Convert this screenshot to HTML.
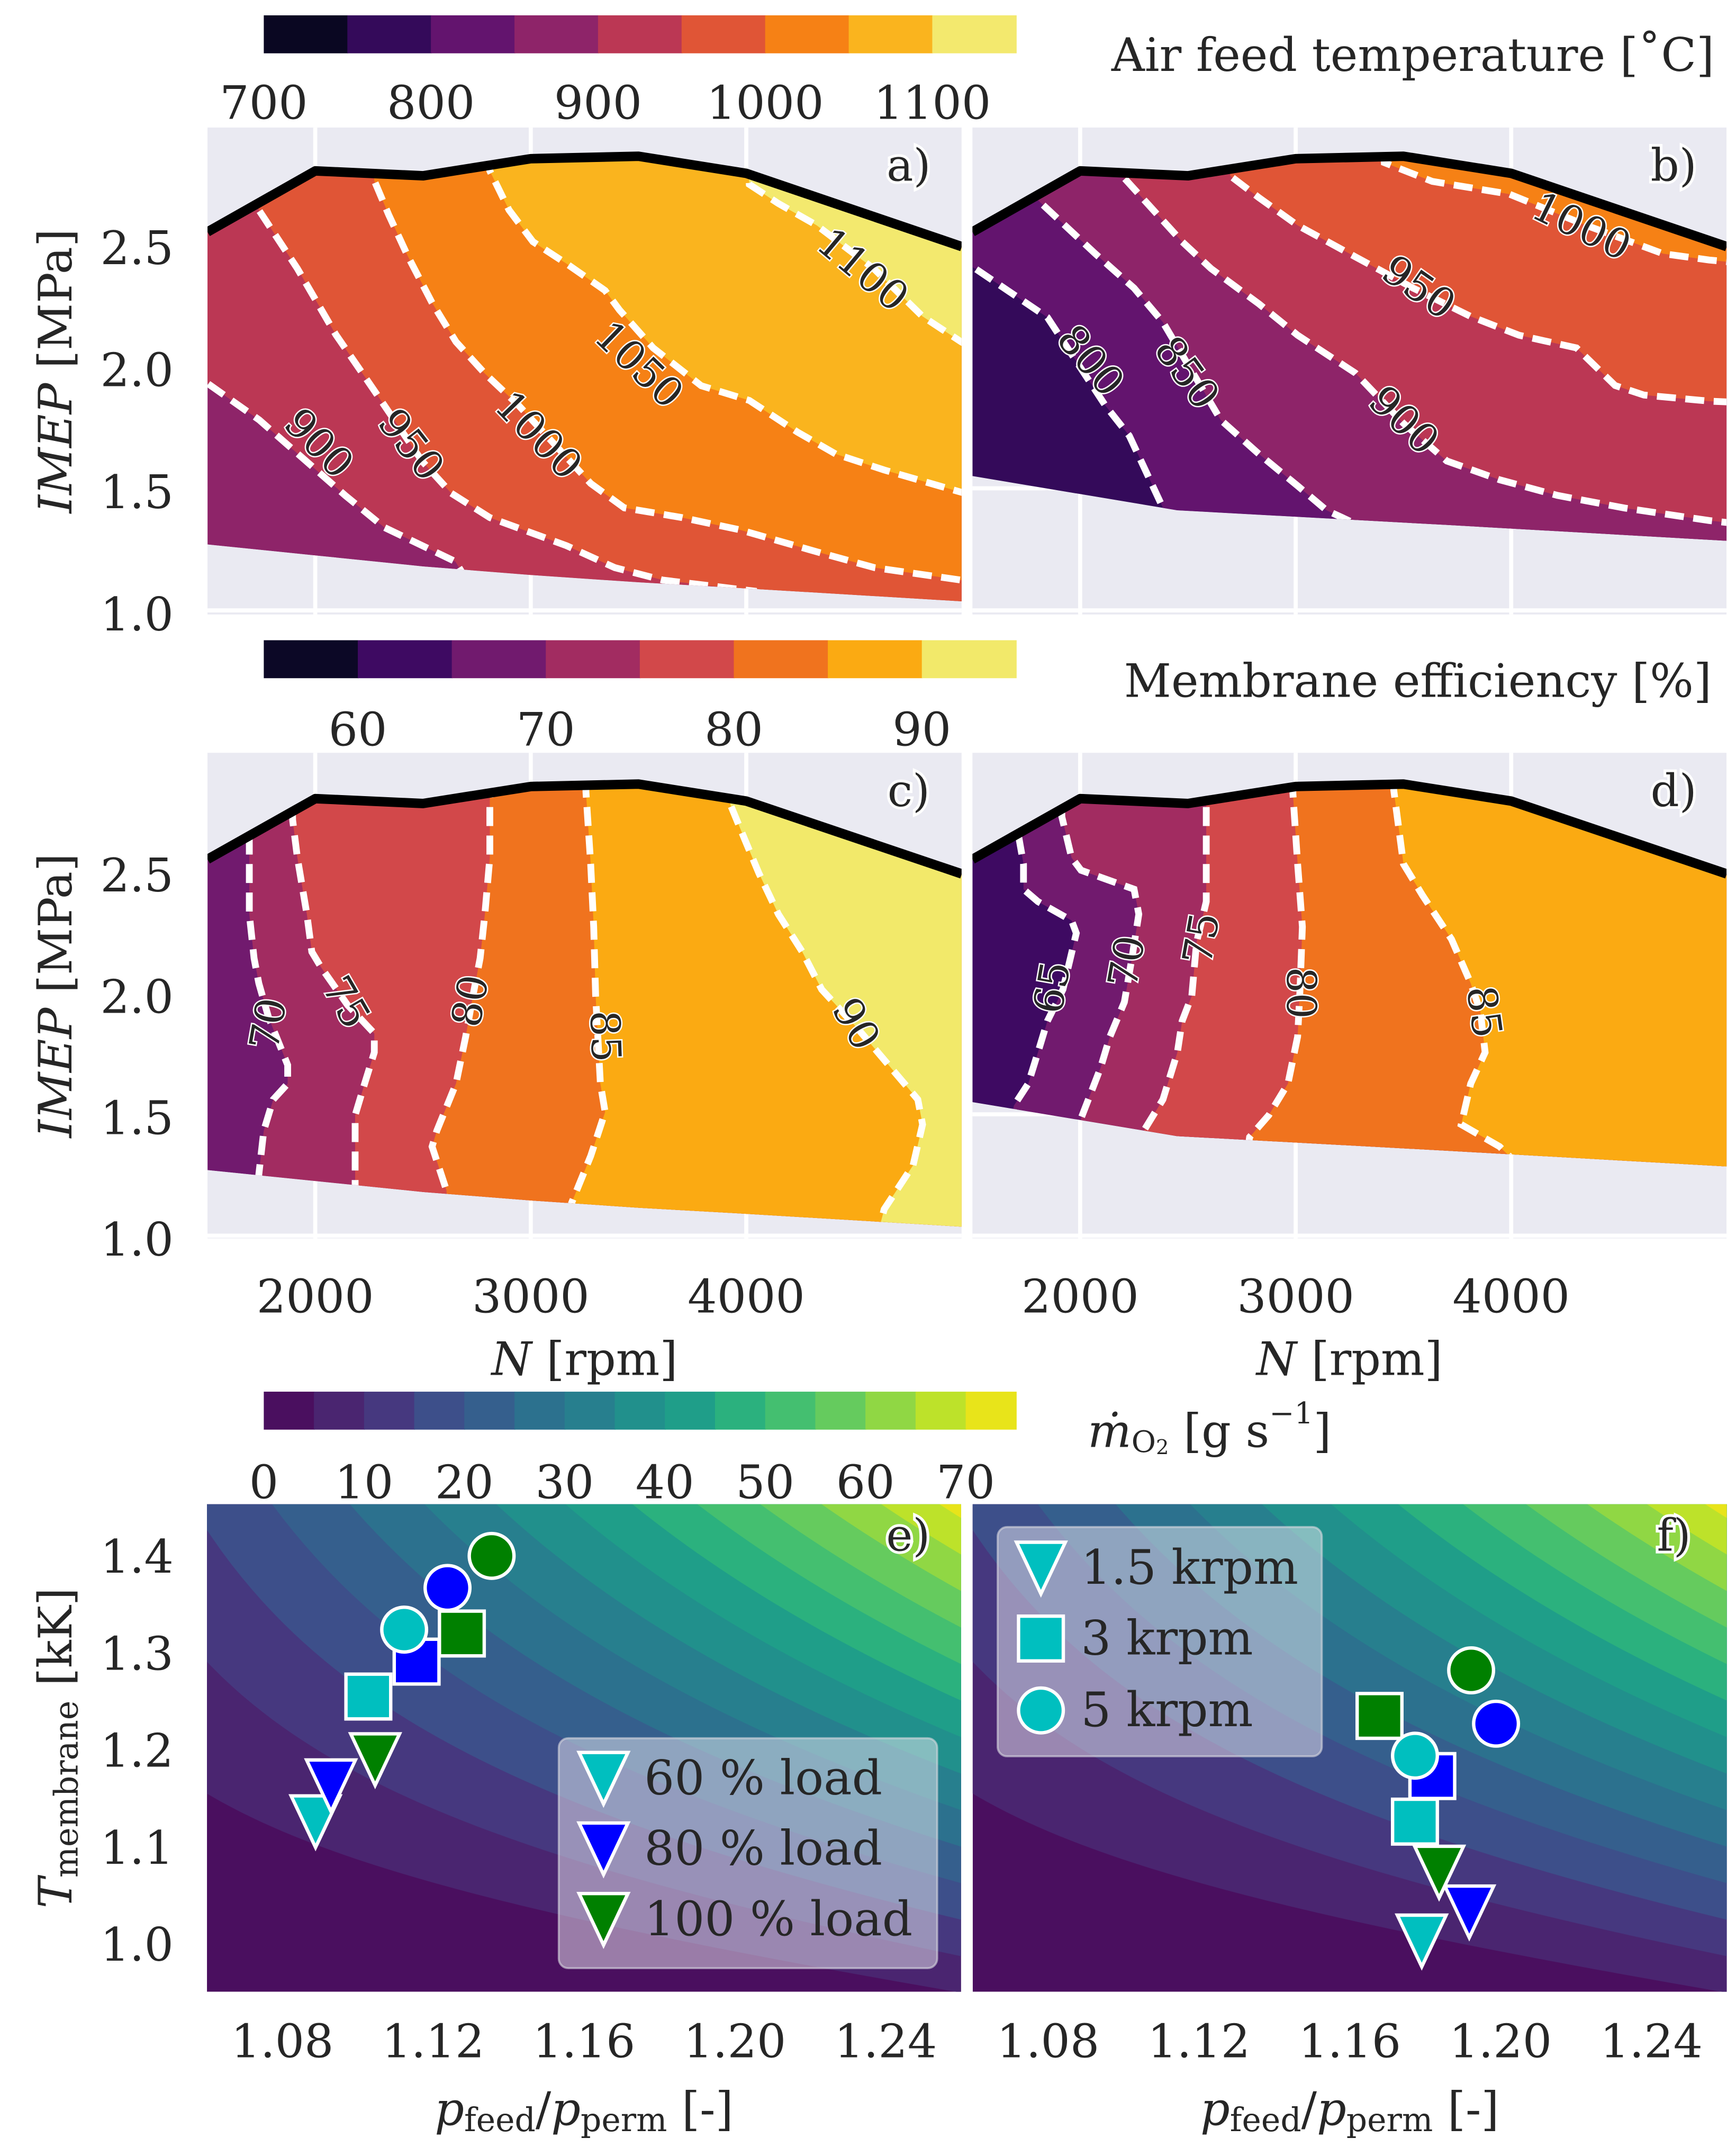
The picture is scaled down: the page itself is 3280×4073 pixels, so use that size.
<!DOCTYPE html>
<html><head><meta charset="utf-8"><style>
html,body{margin:0;padding:0;background:#fff;}
svg{display:block;}
text{font-family:"DejaVu Serif","Liberation Serif",serif;fill:#262626;}
</style></head><body>
<svg id="fig" xmlns="http://www.w3.org/2000/svg" width="3280" height="4073" viewBox="0 0 1280 1589.5" preserveAspectRatio="none"></svg>
<script>
// ---------- data ----------
const envTopN=[1500,2000,2500,3000,3500,4000,5000];
const envTopV=[2.55,2.80,2.78,2.85,2.86,2.79,2.49];
const envBotLeftN=[1500,2000,2500,3000,3500,4000,5000];
const envBotLeftV=[1.27,1.225,1.18,1.145,1.115,1.09,1.037];
const envBotRightN=[1500,2450,3700,5000];
const envBotRightV=[1.55,1.41,1.35,1.285];

const levelsA=[900,950,1000,1050,1100];
const linesA=[
[[1400,2.0],[1500,1.93],[1740,1.78],[2140,1.47],[2320,1.34],[2650,1.20],[2720,1.10],[2750,0.9]],
[[1700,3.1],[1738,2.64],[1917,2.40],[2095,2.13],[2274,1.90],[2497,1.61],[2631,1.48],[2810,1.38],[3166,1.265],[3390,1.175],[3613,1.124],[4037,1.079],[4100,0.9]],
[[2250,3.1],[2274,2.76],[2341,2.62],[2430,2.45],[2542,2.26],[2653,2.10],[2787,1.97],[2943,1.84],[3278,1.52],[3434,1.42],[3702,1.38],[3970,1.33],[4327,1.24],[4595,1.175],[4997,1.124],[5100,1.11]],
[[2790,3.1],[2810,2.80],[2899,2.64],[3010,2.51],[3166,2.42],[3345,2.31],[3412,2.23],[3568,2.075],[3791,1.92],[4014,1.86],[4238,1.73],[4416,1.64],[4640,1.575],[4997,1.484],[5100,1.46]],
[[3990,3.1],[4014,2.745],[4148,2.667],[4327,2.577],[4595,2.397],[4818,2.204],[4997,2.10],[5100,2.05]]
];
const levelsB=[800,850,900,950,1000];
const linesB=[
[[1400,2.45],[1513,2.40],[1848,2.20],[2116,1.84],[2228,1.715],[2384,1.42],[2420,1.3]],
[[1780,3.0],[1804,2.68],[2071,2.46],[2250,2.32],[2384,2.18],[2652,1.78],[2830,1.64],[3009,1.51],[3143,1.41],[3277,1.355],[3320,1.2]],
[[2190,3.0],[2205,2.77],[2339,2.64],[2473,2.51],[2607,2.40],[2830,2.255],[3009,2.127],[3277,1.972],[3500,1.766],[3701,1.612],[3946,1.535],[4214,1.471],[4527,1.419],[4919,1.368],[5100,1.35]],
[[2680,3.0],[2696,2.78],[2830,2.69],[3009,2.577],[3277,2.448],[3545,2.32],[3812,2.204],[4036,2.127],[4303,2.075],[4482,1.921],[4616,1.882],[4919,1.857],[5100,1.85]],
[[3400,3.0],[3411,2.834],[3634,2.757],[3991,2.705],[4348,2.577],[4705,2.461],[4919,2.435],[5100,2.42]]
];
const levelsC=[70,75,80,85,90];
const linesC=[
[[1690,3.0],[1694,2.608],[1694,2.324],[1716,2.143],[1738,2.04],[1783,1.9],[1872,1.703],[1872,1.626],[1805,1.561],[1761,1.432],[1738,1.251],[1735,1.0]],
[[1890,3.0],[1895,2.712],[1917,2.557],[1961,2.324],[1984,2.169],[2028,2.104],[2150,1.95],[2274,1.833],[2274,1.755],[2229,1.626],[2185,1.496],[2185,1.212],[2185,1.0]],
[[2810,3.0],[2810,2.802],[2810,2.557],[2787,2.324],[2765,2.143],[2730,1.98],[2698,1.82],[2653,1.626],[2564,1.432],[2542,1.367],[2609,1.186],[2620,1.0]],
[[3256,3.0],[3256,2.828],[3278,2.531],[3292,2.272],[3301,1.988],[3323,1.626],[3345,1.509],[3278,1.328],[3189,1.134],[3180,1.0]],
[[3900,3.0],[3926,2.776],[3992,2.634],[4059,2.492],[4149,2.324],[4260,2.169],[4350,2.014],[4520,1.85],[4685,1.677],[4796,1.561],[4818,1.458],[4774,1.29],[4640,1.109],[4617,1.031],[4610,0.9]]
];
const levelsD=[65,70,75,80,85];
const linesD=[
[[1710,3.0],[1714,2.647],[1737,2.531],[1737,2.427],[1804,2.376],[1960,2.298],[1982,2.246],[1920,2.014],[1848,1.884],[1804,1.755],[1759,1.626],[1692,1.535],[1670,1.4]],
[[1910,3.0],[1915,2.725],[1960,2.557],[2004,2.505],[2250,2.427],[2272,2.324],[2240,2.143],[2205,1.962],[2138,1.82],[2094,1.69],[2004,1.483],[1990,1.3]],
[[2585,3.0],[2585,2.77],[2585,2.531],[2585,2.376],[2540,2.208],[2518,1.988],[2473,1.884],[2451,1.755],[2384,1.561],[2295,1.432],[2270,1.3]],
[[2987,3.0],[2987,2.822],[3009,2.531],[3031,2.272],[3020,2.014],[3009,1.82],[2964,1.626],[2875,1.496],[2786,1.406],[2770,1.3]],
[[3455,3.0],[3455,2.835],[3500,2.531],[3589,2.401],[3723,2.221],[3812,2.04],[3857,1.923],[3879,1.755],[3812,1.626],[3768,1.458],[3946,1.367],[3991,1.328],[4020,1.2]]
];

const ePressure=[1.0888,1.0929,1.1046,1.1028,1.1156,1.1276,1.1123,1.1238,1.1355];
const eTemp=[1.127,1.164,1.191,1.256,1.292,1.321,1.325,1.368,1.401];
const fPressure=[1.1791,1.1917,1.1837,1.1773,1.1819,1.1679,1.1773,1.1988,1.1922];
const fTemp=[1.004,1.034,1.075,1.127,1.174,1.236,1.195,1.228,1.283];
const markerSpeed=['tri','tri','tri','sq','sq','sq','circ','circ','circ'];
const markerLoad=[60,80,100,60,80,100,60,80,100];

const cb1Ticks=[700,800,900,1000,1100];
const cb2Ticks=[60,70,80,90];
const cb3Ticks=[0,10,20,30,40,50,60,70];
const fieldLevels=[5,10,15,20,25,30,35,40,45,50,55,60,65,70];

// ---------- styles ----------
const inferno9=['#0a0722','#340a5a','#63146e','#8e2469','#bb3754','#e05536','#f68115','#fab41e','#f3e96e'];
const inferno8=['#0c0826','#3e0a62','#711a6e','#a22c61','#d2484a','#f0731e','#fbaa12','#f2e96a'];
const viridis15=['#4a0f5f','#4a2570','#46387f','#3d4f8a','#355f8d','#2c718e','#277f8e','#21908c','#1f9e89','#2bb17e','#44bf70','#65cb5e','#90d744','#bde22a','#e8e41a'];
const loadColor={60:'#00bfbf',80:'#0000ff',100:'#008000'};

const NS='http://www.w3.org/2000/svg';
const svg=document.getElementById('fig');
const defs=document.createElementNS(NS,'defs');svg.appendChild(defs);
function mk(tag,attrs,parent){const e=document.createElementNS(NS,tag);for(const k in attrs)e.setAttribute(k,attrs[k]);(parent||svg).appendChild(e);return e;}
function txt(str,attrs,parent){const t=mk('text',attrs,parent);t.textContent=str;return t;}

// ---------- colorbars ----------
function colorbar(name,y,colors,vmin,vmax,ticks,labelY){
  const g=mk('g',{});
  
  
  const x0=194.5,w=554.5,n=colors.length;
  colors.forEach((c,i)=>{
    const r=mk('rect',{x:x0+i*w/n,y:y,width:w/n+0.6,height:28,fill:c},g);
    
    
  });
  ticks.forEach(v=>{
    const t=txt(String(v),{x:x0+(v-vmin)/(vmax-vmin)*w,y:labelY,'font-size':34,'text-anchor':'middle','dominant-baseline':'central'},g);
    
    
  });
}
colorbar('temperature-colorbar',11.3,inferno9,700,1150,cb1Ticks,76);
colorbar('efficiency-colorbar',472,inferno8,55,95,cb2Ticks,538);
colorbar('oxygen-flow-colorbar',1026,viridis15,0,75,cb3Ticks,1093);

let t=txt('Air feed temperature [˚C]',{x:1264,y:40.6,'font-size':34,'text-anchor':'end','dominant-baseline':'central'});


t=txt('Membrane efficiency [%]',{x:1262,y:502,'font-size':34,'text-anchor':'end','dominant-baseline':'central'});


t=mk('text',{x:802,y:1055,'font-size':34,'dominant-baseline':'central'});
t.innerHTML='<tspan font-style="italic">ṁ</tspan><tspan font-size="22" dy="8">O</tspan><tspan font-size="15" dy="4">2</tspan><tspan dy="-12"> [g s</tspan><tspan font-size="22" dy="-13">−1</tspan><tspan dy="13">]</tspan>';



// ---------- contour panels ----------
let clipId=0;
function contourPanel(name,P,levels,lines,bandColors,baseColor,botN,botV,labels,letter,showY,showX){
  const xs=N=>P.x+(N-1500)*0.1589;
  const ys=v=>P.base-(v-1)*P.s;
  const g=mk('g',{});
  
  
  const bg=mk('rect',{x:P.x,y:P.y,width:P.w,height:P.h,fill:'#eaeaf2'},g);
  
  
  [2000,3000,4000].forEach(N=>{
    const l=mk('line',{x1:xs(N),x2:xs(N),y1:P.y,y2:P.y+P.h,stroke:'#fff','stroke-width':3},g);
    
    
  });
  [1.0,1.5,2.0,2.5].forEach(v=>{
    const l=mk('line',{x1:P.x,x2:P.x+P.w,y1:ys(v),y2:ys(v),stroke:'#fff','stroke-width':3},g);
    
    
  });
  const id='clip'+(clipId++);
  const cp=mk('clipPath',{id:id},defs);
  let pts=envTopN.map((N,i)=>xs(N)+','+ys(envTopV[i]));
  for(let i=botN.length-1;i>=0;i--)pts.push(xs(botN[i])+','+ys(botV[i]));
  mk('polygon',{points:pts.join(' ')},cp);
  const rid='clip'+(clipId++);
  const rc=mk('clipPath',{id:rid},defs);
  mk('rect',{x:P.x,y:P.y,width:P.w,height:P.h},rc);
  const outer=mk('g',{'clip-path':'url(#'+rid+')'},g);
  const fillG=mk('g',{'clip-path':'url(#'+id+')'},outer);
  const base=mk('polygon',{points:pts.join(' '),fill:baseColor},fillG);
  
  
  lines.forEach((ln,i)=>{
    const first=ln[0],last=ln[ln.length-1];
    const q=ln.map(p=>xs(p[0])+','+ys(p[1]));
    q.push(xs(last[0])+','+ys(0));q.push(xs(9000)+','+ys(0));q.push(xs(9000)+','+ys(9));q.push(xs(first[0])+','+ys(9));
    const poly=mk('polygon',{points:q.join(' '),fill:bandColors[i]},fillG);
    
    
  });
  lines.forEach((ln,i)=>{
    const pl=mk('polyline',{points:ln.map(p=>xs(p[0])+','+ys(p[1])).join(' '),fill:'none',stroke:'#fff','stroke-width':5,'stroke-dasharray':'14 7'},fillG);
    
    
  });
  const top=mk('polyline',{points:envTopN.map((N,i)=>xs(N)+','+ys(envTopV[i])).join(' '),fill:'none',stroke:'#000','stroke-width':7,'stroke-linejoin':'round'},outer);
  
  
  labels.forEach(L=>{
    const tl=txt(L[0],{x:L[1],y:L[2],'font-size':30,'text-anchor':'middle','dominant-baseline':'central',transform:'rotate('+L[3]+' '+L[1]+' '+L[2]+')',fill:'#000',stroke:'#fff','stroke-width':2,'paint-order':'stroke'},g);
    
    
  });
  const lt=txt(letter,{x:P.x+P.w-39,y:P.y+28,'font-size':33,'text-anchor':'middle','dominant-baseline':'central',stroke:'#fff','stroke-width':4,'paint-order':'stroke'},g);
  
  
  if(showY){
    [1.0,1.5,2.0,2.5].forEach(v=>{
      const tk=txt(v.toFixed(1),{x:128,y:ys(v)+3,'font-size':34,'text-anchor':'end','dominant-baseline':'central'},g);
      
      
    });
    const yl=mk('text',{x:41,y:P.y+P.h/2,'font-size':34,'text-anchor':'middle','dominant-baseline':'central',transform:'rotate(-90 41 '+(P.y+P.h/2)+')'},g);
    yl.innerHTML='<tspan font-style="italic">IMEP</tspan> [MPa]';
    
    
  }
  if(showX){
    [2000,3000,4000].forEach(N=>{
      const tk=txt(String(N),{x:xs(N),y:956,'font-size':34,'text-anchor':'middle','dominant-baseline':'central'},g);
      
      
    });
    const xl=mk('text',{x:P.x+P.w/2,y:1002,'font-size':34,'text-anchor':'middle','dominant-baseline':'central'},g);
    xl.innerHTML='<tspan font-style="italic">N</tspan> [rpm]';
    
    
  }
}
const PA={x:153,y:94,w:556,h:359,base:450,s:180};
const PB={x:717,y:94,w:556,h:359,base:450,s:180};
const PC={x:153,y:555,w:556,h:358,base:911,s:179};
const PD={x:717,y:555,w:556,h:358,base:911,s:179};
contourPanel('panel-a-air-feed-temp-case1',PA,levelsA,linesA,[inferno9[4],inferno9[5],inferno9[6],inferno9[7],inferno9[8]],inferno9[3],envBotLeftN,envBotLeftV,
 [['900',235,327,46],['950',303,328,52],['1000',397,321,46],['1050',471,269,44],['1100',636,199,40]],'a)',true,false);
contourPanel('panel-b-air-feed-temp-case2',PB,levelsB,linesB,[inferno9[2],inferno9[3],inferno9[4],inferno9[5],inferno9[6]],inferno9[1],envBotRightN,envBotRightV,
 [['800',804,266,50],['850',875,275,54],['900',1035,310,44],['950',1046,212,35],['1000',1166,167,26]],'b)',false,false);
contourPanel('panel-c-membrane-eff-case1',PC,levelsC,linesC,[inferno8[3],inferno8[4],inferno8[5],inferno8[6],inferno8[7]],inferno8[2],envBotLeftN,envBotLeftV,
 [['70',198,755,-80],['75',255,739,60],['80',347,738,-80],['85',446,764,88],['90',631,755,60]],'c)',true,true);
contourPanel('panel-d-membrane-eff-case2',PD,levelsD,linesD,[inferno8[2],inferno8[3],inferno8[4],inferno8[5],inferno8[6]],inferno8[1],envBotRightN,envBotRightV,
 [['65',776,728,-80],['70',831,709,-80],['75',886,692,-80],['80',959,732,90],['85',1094,746,82]],'d)',false,true);

// ---------- scatter panels ----------
function markerShape(kind,cx,cy,color,parent){
  let e;
  if(kind==='tri')e=mk('path',{d:'M'+(cx-18)+','+(cy-19)+' L'+(cx+18)+','+(cy-19)+' L'+cx+','+(cy+19)+' Z',fill:color,stroke:'#fff','stroke-width':2.5},parent);
  else if(kind==='sq')e=mk('rect',{x:cx-16.5,y:cy-16.5,width:33,height:33,fill:color,stroke:'#fff','stroke-width':2.5},parent);
  else e=mk('circle',{cx:cx,cy:cy,r:16.5,fill:color,stroke:'#fff','stroke-width':2.5},parent);
  return e;
}
function scatterPanel(name,x0,P,Tv,letter,showY,legend){
  const y0=1109,w=556,h=359.4;
  const xs=p=>x0+(p-1.06)*2780;
  const ys=T=>1433.8-(T-1)*715;
  const g=mk('g',{});
  
  
  const id='clip'+(clipId++);
  const cp=mk('clipPath',{id:id},defs);
  mk('rect',{x:x0,y:y0,width:w,height:h},cp);
  const fg=mk('g',{'clip-path':'url(#'+id+')'},g);
  const bg=mk('rect',{x:x0,y:y0,width:w,height:h,fill:viridis15[0]},fg);
  
  
  fieldLevels.forEach((L,i)=>{
    const q=[];
    for(let k=0;k<=80;k++){
      const p=1.05+k*0.22/80;
      const A=36.8+(p-1.06)*480;const T0=1.02-(p-1.06)*0.535;
      q.push(xs(p)+','+ys(T0+L/A));
    }
    q.push(xs(1.27)+','+ys(2));q.push(xs(1.05)+','+ys(2));
    const poly=mk('polygon',{points:q.join(' '),fill:viridis15[i+1]},fg);
    
    
  });
  P.forEach((p,i)=>{
    const m=markerShape(markerSpeed[i],xs(p),ys(Tv[i]),loadColor[markerLoad[i]],fg);
    
    
  });
  const lt=txt(letter,{x:x0+w-39,y:1132,'font-size':33,'text-anchor':'middle','dominant-baseline':'central',stroke:'#fff','stroke-width':4,'paint-order':'stroke'},g);
  
  
  const lg=mk('g',{},g);
  
  
  const box=mk('rect',{x:legend.x,y:legend.y,width:legend.w,height:legend.h,rx:7,fill:'#eaeaf2','fill-opacity':0.5,stroke:'#d8d8e0','stroke-opacity':0.6,'stroke-width':1.5},lg);
  
  
  legend.items.forEach((it,i)=>{
    const cy=legend.ys[i];
    const m=markerShape(it[0],legend.mx,cy,it[1],lg);
    
    
    const tt=txt(it[2],{x:legend.tx,y:cy,'font-size':35,'dominant-baseline':'central'},lg);
    
    
  });
  [1.08,1.12,1.16,1.20,1.24].forEach(v=>{
    const tk=txt(v.toFixed(2),{x:xs(v),y:1505,'font-size':34,'text-anchor':'middle','dominant-baseline':'central'},g);
    
    
  });
  const xl=mk('text',{x:x0+w/2,y:1555,'font-size':34,'text-anchor':'middle','dominant-baseline':'central'},g);
  xl.innerHTML='<tspan font-style="italic">p</tspan><tspan font-size="24" dy="8">feed</tspan><tspan dy="-8">/</tspan><tspan font-style="italic">p</tspan><tspan font-size="24" dy="8">perm</tspan><tspan dy="-8"> [-]</tspan>';
  
  
  if(showY){
    [1.0,1.1,1.2,1.3,1.4].forEach(v=>{
      const tk=txt(v.toFixed(1),{x:128,y:ys(v),'font-size':34,'text-anchor':'end','dominant-baseline':'central'},g);
      
      
    });
    const yc=y0+h/2;
    const yl=mk('text',{x:41,y:yc,'font-size':34,'text-anchor':'middle','dominant-baseline':'central',transform:'rotate(-90 41 '+yc+')'},g);
    yl.innerHTML='<tspan font-style="italic">T</tspan><tspan font-size="24" dy="8">membrane</tspan><tspan dy="-8"> [kK]</tspan>';
    
    
  }
}
scatterPanel('panel-e-membrane-temp-vs-pressure',152.6,ePressure,eTemp,'e)',true,
 {x:412,y:1281.5,w:279,h:169.5,mx:445,tx:475,ys:[1311,1363,1415],items:[['tri',loadColor[60],'60 % load'],['tri',loadColor[80],'80 % load'],['tri',loadColor[100],'100 % load']]});
scatterPanel('panel-f-membrane-temp-vs-pressure',717.2,fPressure,fTemp,'f)',false,
 {x:735.6,y:1125.8,w:239,h:169,mx:767.5,tx:797,ys:[1156,1208,1261],items:[['tri','#00bfbf','1.5 krpm'],['sq','#00bfbf','3 krpm'],['circ','#00bfbf','5 krpm']]});
</script>
</body></html>
